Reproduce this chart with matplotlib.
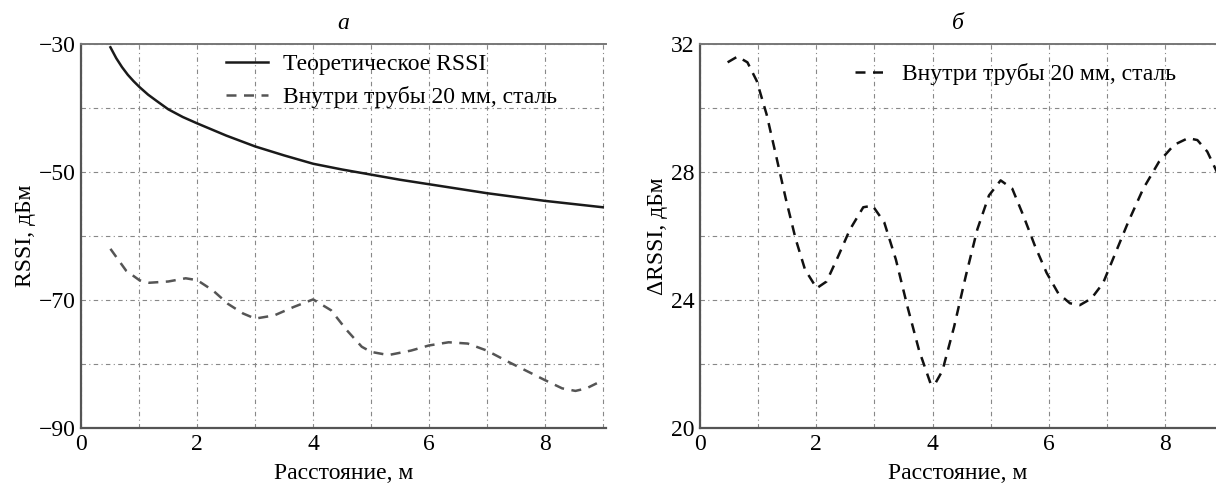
import matplotlib.pyplot as plt
from matplotlib.ticker import MultipleLocator, FixedLocator

plt.rcParams['font.family'] = ['Liberation Serif', 'DejaVu Serif']

# panel a: theoretical RSSI
x_theory = [0.5, 0.6, 0.7, 0.8, 0.9, 1.0, 1.15, 1.3, 1.5, 1.75, 2.0, 2.5,
            3.0, 3.5, 4.0, 4.5, 5.0, 5.5, 6.0, 6.5, 7.0, 7.5, 8.0, 8.5, 9.0]
rssi_theory = [-30.5, -32.2, -33.6, -34.8, -35.8, -36.7, -37.9, -38.9, -40.2,
               -41.4, -42.4, -44.3, -46.0, -47.4, -48.7, -49.6, -50.4, -51.2,
               -51.9, -52.6, -53.3, -53.9, -54.5, -55.0, -55.5]

# panel a: measured inside the pipe
x_pipe = [0.5, 0.77, 1.0, 1.17, 1.5, 1.8, 2.0, 2.27, 2.53, 2.79, 3.0, 3.33,
          3.66, 4.0, 4.31, 4.58, 4.84, 5.0, 5.3, 5.69, 6.0, 6.34, 6.67, 7.0,
          7.38, 7.78, 8.0, 8.3, 8.53, 8.72, 8.9]
rssi_pipe = [-62.0, -65.4, -66.9, -67.3, -67.1, -66.6, -66.9, -68.5, -70.6,
             -72.1, -72.9, -72.4, -71.1, -69.9, -71.6, -74.7, -77.3, -78.1,
             -78.6, -77.9, -77.1, -76.6, -76.8, -77.9, -79.7, -81.5, -82.5,
             -83.8, -84.2, -83.8, -83.0]

# panel b: delta RSSI
x_delta = [0.48, 0.65, 0.82, 0.98, 1.15, 1.31, 1.48, 1.65, 1.81, 2.01, 2.18,
           2.38, 2.58, 2.81, 2.97, 3.17, 3.37, 3.57, 3.77, 3.97, 4.04, 4.17,
           4.37, 4.57, 4.77, 4.97, 5.17, 5.37, 5.56, 5.76, 5.96, 6.16, 6.36,
           6.53, 6.73, 6.93, 7.12, 7.36, 7.62, 7.89, 8.15, 8.39, 8.55, 8.72,
           8.9]
d_rssi = [31.43, 31.61, 31.43, 30.85, 29.8, 28.53, 27.16, 25.9, 24.95, 24.37,
          24.58, 25.37, 26.2, 26.9, 26.95, 26.43, 25.27, 23.79, 22.42, 21.37,
          21.37, 21.79, 23.16, 24.74, 26.21, 27.27, 27.74, 27.48, 26.64, 25.69,
          24.85, 24.21, 23.9, 23.84, 24.05, 24.53, 25.37, 26.43, 27.48, 28.32,
          28.85, 29.06, 29.0, 28.64, 27.95]

yticks_a = [-90, -70, -50, -30]
yticks_b = [20, 24, 28, 32]

fs = 17
grid_kw = dict(color='#888888', linestyle=(0, (4, 3, 1, 3)), linewidth=0.8)

fig = plt.figure(figsize=(12.16, 4.86), dpi=100)
ax1 = fig.add_axes([0.067, 0.1193, 0.431, 0.790])
ax2 = fig.add_axes([0.5754, 0.1193, 0.4246, 0.790])


def style(ax):
    for s in ['left', 'bottom']:
        ax.spines[s].set_color('#555555')
        ax.spines[s].set_linewidth(1.6)
    ax.spines['top'].set_color('#777777')
    ax.spines['top'].set_linewidth(1.4)
    ax.spines['right'].set_visible(False)
    ax.xaxis.set_major_locator(MultipleLocator(2))
    ax.xaxis.set_minor_locator(MultipleLocator(1))
    ax.tick_params(which='both', length=0, labelsize=fs, pad=4)
    ax.grid(True, which='both', **grid_kw)
    ax.set_axisbelow(True)
    ax.set_xlabel('Расстояние, м', fontsize=fs, labelpad=6)


# a
ax1.plot(x_theory, rssi_theory, color='#1a1a1a', lw=1.8, label='Теоретическое RSSI')
ax1.plot(x_pipe, rssi_pipe, color='#555555', lw=1.8, ls=(0, (4, 3)),
         label='Внутри трубы 20 мм, сталь')
ax1.set_xlim(0, 9.05)
ax1.set_ylim(-90, -30)
ax1.yaxis.set_major_locator(FixedLocator(yticks_a))
ax1.yaxis.set_minor_locator(MultipleLocator(10))
style(ax1)
ax1.set_ylabel('RSSI, дБм', fontsize=fs, labelpad=2)
ax1.set_title('а', fontsize=fs, style='italic', pad=11)
ax1.legend(loc='upper left', bbox_to_anchor=(0.235, 1.03), frameon=False,
           fontsize=fs, handlelength=1.8, handletextpad=0.6, labelspacing=0.45)

# б
ax2.plot(x_delta, d_rssi, color='#111111', lw=1.8, ls=(0, (4, 3)),
         label='Внутри трубы 20 мм, сталь')
ax2.set_xlim(0, 8.87)
ax2.set_ylim(20, 32)
ax2.yaxis.set_major_locator(FixedLocator(yticks_b))
ax2.yaxis.set_minor_locator(MultipleLocator(2))
style(ax2)
ax2.set_ylabel('ΔRSSI, дБм', fontsize=fs, labelpad=2)
ax2.set_title('б', fontsize=fs, style='italic', pad=11)
ax2.legend(loc='upper left', bbox_to_anchor=(0.26, 1.005), frameon=False,
           fontsize=fs, handlelength=1.4, handletextpad=0.6)

fig.savefig('out.png', dpi=100)
